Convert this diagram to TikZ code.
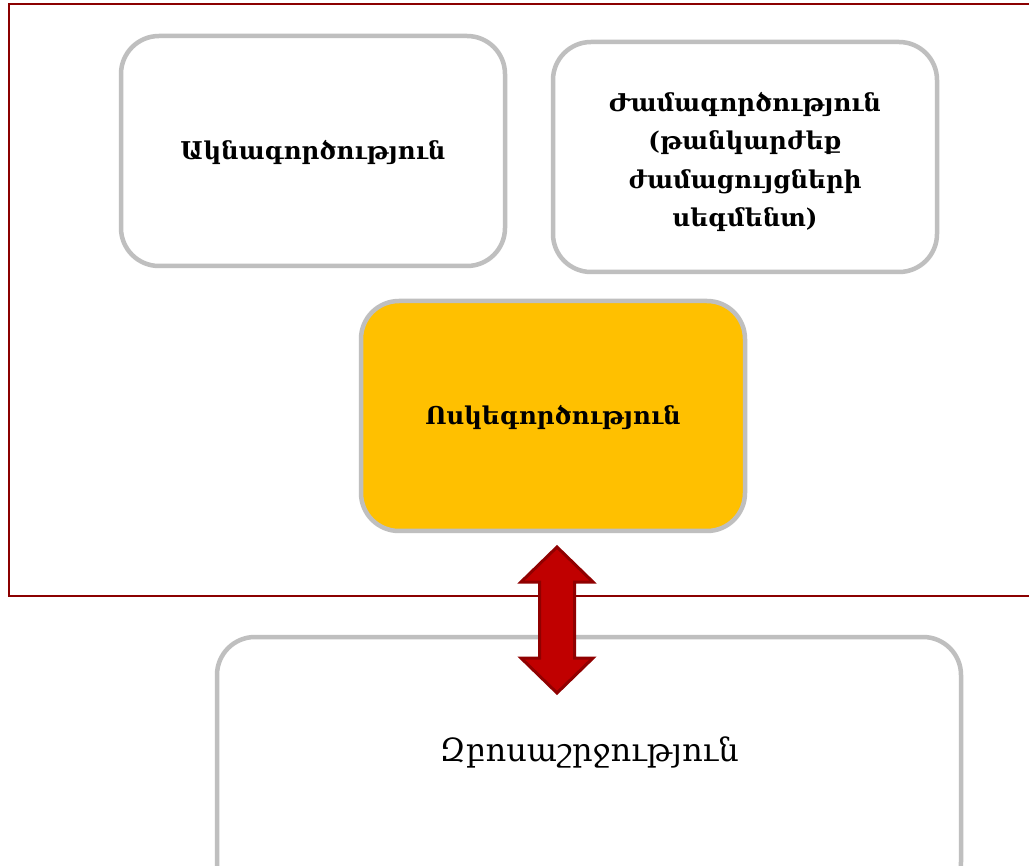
\documentclass[tikz,border=0pt]{standalone}
\usepackage{fontspec}
\newfontfamily\armfont[Script=Armenian]{DejaVu Serif}
\definecolor{frame}{HTML}{8B0000}
\definecolor{boxgray}{HTML}{BFBFBF}
\definecolor{gold}{HTML}{FFC000}
\definecolor{arrowfill}{HTML}{C00000}
\definecolor{arrowline}{HTML}{900000}
\tikzset{
  card/.style={draw=boxgray, line width=4.5pt, rounded corners=38pt, fill=white},
  cardtext/.style={font=\armfont\bfseries\fontsize{24.5}{38.5}\selectfont, align=center, text=black},
}
\begin{document}
\begin{tikzpicture}[x=1pt,y=-1pt]
\useasboundingbox (0,0) rectangle (1029,866);
\clip (0,0) rectangle (1029,866);
\fill[white] (0,0) rectangle (1029,866);
\draw[frame, line width=1.8pt] (9,4) rectangle (1040,596);
\draw[card] (121,36) rectangle (505,266);
\draw[card] (553,42) rectangle (937,272);
\draw[card, fill=gold] (361,301) rectangle (745,531);
\draw[card] (217,637) rectangle (961,900);
\node[cardtext] (a) at (313,152) {Ակնագործություն};
\node[cardtext] (b) at (745,162) {Ժամագործություն\\(թանկարժեք\\ժամացույցների\\սեգմենտ)};
\node[cardtext] (c) at (553,417) {Ոսկեգործություն};
\node[font=\armfont\fontsize{32}{38}\selectfont] (d) at (589,752) {Զբոսաշրջություն};
\draw[arrowline, fill=arrowfill, line width=3pt, line join=miter]
  (557,547) -- (593,582) -- (574.5,582) -- (574.5,658) -- (593,658) -- (557,693)
  -- (521,658) -- (539.5,658) -- (539.5,582) -- (521,582) -- cycle;
\end{tikzpicture}
\end{document}
